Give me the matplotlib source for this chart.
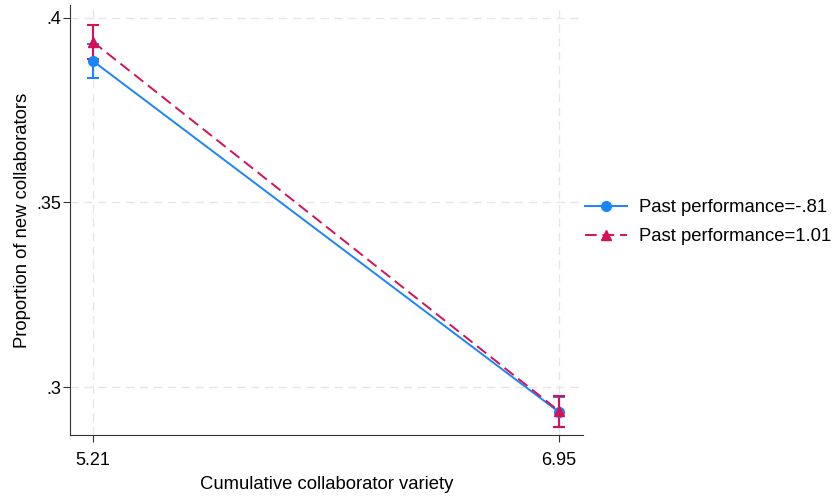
import matplotlib.pyplot as plt

plt.rcParams['font.family'] = ['Liberation Sans', 'DejaVu Sans']

variety = [5.21, 6.95]  # cumulative collaborator variety
low_perf = [0.3883, 0.2932]  # past performance = -.81
low_lo = [0.3837, 0.2892]
low_hi = [0.3929, 0.2973]
high_perf = [0.3935, 0.2935]  # past performance = 1.01
high_lo = [0.3888, 0.2892]
high_hi = [0.3980, 0.2975]
yticks = [0.3, 0.35, 0.4]
ytick_labels = [".3", ".35", ".4"]

blue = "#1a85ff"
red = "#d41159"

fig = plt.figure(figsize=(8.33, 4.96), dpi=100)
ax = fig.add_axes([0.084, 0.123, 0.616, 0.867])

# error bars first, then lines on top
ax.errorbar(variety, low_perf,
            yerr=[[m - l for m, l in zip(low_perf, low_lo)], [h - m for m, h in zip(low_perf, low_hi)]],
            fmt="none", ecolor=blue, elinewidth=1.5, capsize=4, capthick=1.5)
ax.errorbar(variety, high_perf,
            yerr=[[m - l for m, l in zip(high_perf, high_lo)], [h - m for m, h in zip(high_perf, high_hi)]],
            fmt="none", ecolor=red, elinewidth=1.5, capsize=4, capthick=1.5)
ax.plot(variety, low_perf, color=blue, lw=1.4, marker="o", ms=7,
        label="Past performance=-.81")
ax.plot(variety, high_perf, color=red, lw=1.4, ls=(0, (6, 3)), marker="^", ms=7,
        label="Past performance=1.01")

ax.set_xlim(5.124, 7.04)
ax.set_ylim(0.287, 0.4035)
ax.set_xticks(variety)
ax.set_xticklabels(["5.21", "6.95"])
ax.set_yticks(yticks)
ax.set_yticklabels(ytick_labels)
ax.tick_params(labelsize=13, length=5, color="#333333")
ax.tick_params(axis="x", pad=7)
ax.tick_params(axis="y", pad=1)
ax.grid(True, ls=(0, (6, 4)), color="#e6e6e6", lw=1)
ax.set_axisbelow(True)
for s in ["top", "right"]:
    ax.spines[s].set_visible(False)
ax.spines["left"].set_color("#333333")
ax.spines["bottom"].set_color("#333333")

ax.set_xlabel("Cumulative collaborator variety", fontsize=13.3, labelpad=5)
ax.set_ylabel("Proportion of new collaborators", fontsize=13.3, labelpad=4)

ax.legend(loc="center left", bbox_to_anchor=(1.0, 0.495), frameon=False, fontsize=13.3,
          handlelength=2.3, borderaxespad=0, borderpad=0.1, labelspacing=0.65,
          handletextpad=0.65)

fig.savefig("out.png", dpi=100)
